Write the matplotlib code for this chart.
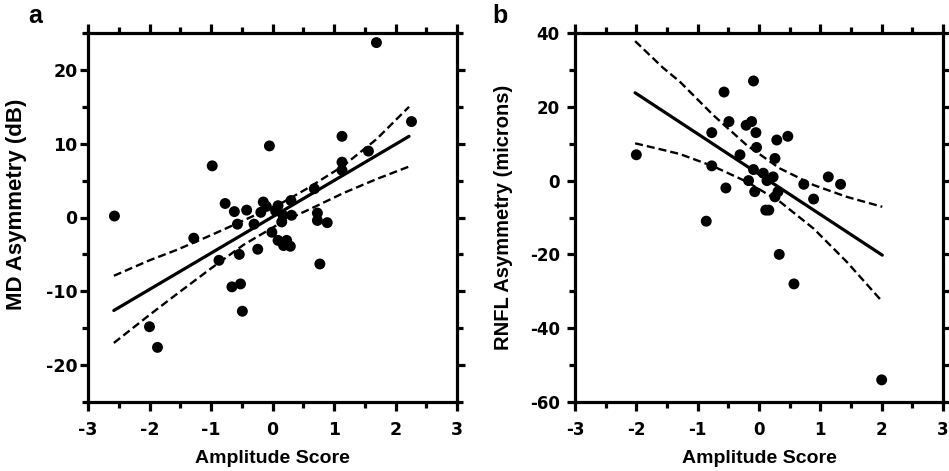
import matplotlib
matplotlib.use("Agg")
import matplotlib.pyplot as plt
from matplotlib.ticker import MultipleLocator

plt.rcParams['font.family'] = ['Liberation Sans', 'DejaVu Sans']
plt.rcParams['font.weight'] = 'bold'
plt.rcParams['axes.unicode_minus'] = False

# panel a: amplitude score vs MD asymmetry (dB)
amp_a = [-2.57, 1.69, 2.26, 1.13, 1.56, 1.13, 1.13, -0.05, -0.98, 0.68,
         -0.77, -0.62, -0.42, -0.57, -0.30, -0.15, -0.10, -0.19, 0.09, 0.30,
         0.17, 0.31, 0.15, 0.73, 0.73, 0.89, -0.01, 0.09, 0.23, 0.18,
         0.29, -0.24, -0.54, -1.28, -0.87, 0.77, -0.66, -0.52, -0.49, -2.00,
         -1.87, 0.05]
md_a = [0.2, 23.7, 13.0, 11.0, 9.0, 7.5, 6.4, 9.7, 7.0, 3.9,
        1.9, 0.8, 1.0, -0.9, -0.9, 2.1, 1.5, 0.7, 1.6, 2.3,
        0.3, 0.3, -0.6, 0.6, -0.4, -0.7, -2.0, -3.1, -3.1, -3.8,
        -3.9, -4.3, -5.0, -2.8, -5.8, -6.3, -9.4, -9.0, -12.7, -14.8,
        -17.6, 0.9]
fit_x_a = [-2.58, 2.22]
fit_y_a = [-12.6, 11.0]
ci_x_a = [-2.58, -2.0, -1.56, -1.0, -0.47, 0.18, 0.6, 1.15, 1.69, 2.22]
ci_up_a = [-7.9, -5.8, -4.4, -2.4, -0.4, 2.1, 4.1, 7.0, 10.6, 15.0]
ci_lo_a = [-17.0, -13.2, -10.4, -6.9, -3.7, -0.5, 1.1, 3.3, 5.2, 6.9]

# panel b: amplitude score vs RNFL asymmetry (microns)
amp_b = [-2.00, -0.09, -0.57, -0.49, -0.12, -0.21, -0.05, -0.77, 0.29, 0.47,
         -0.04, -0.31, 0.26, -0.77, -0.09, -0.17, 0.07, 0.23, 0.13, 1.13,
         0.73, 1.33, -0.54, -0.07, 0.31, 0.26, 0.89, 0.11, 0.16, -0.86,
         0.33, 0.57, 2.00]
rnfl_b = [7, 27, 24, 16, 16, 15, 13, 13, 11, 12,
          9, 7, 6, 4, 3, 0, 2, 1, 0, 1,
          -1, -1, -2, -3, -3, -4.4, -5, -8, -8, -11,
          -20, -28, -54]
fit_x_b = [-2.02, 2.01]
fit_y_b = [23.8, -20.2]
ci_x_b = [-2.02, -1.56, -1.29, -0.75, -0.20, 0.34, 0.89, 1.43, 2.01]
ci_up_b = [37.8, 30.5, 26.8, 17.8, 9.6, 3.3, -1.2, -4.4, -7.1]
ci_lo_b = [10.1, 8.3, 7.2, 3.9, -0.3, -5.7, -13.0, -22.0, -32.8]

fig = plt.figure(figsize=(9.49, 4.71), dpi=100)
ax_a = fig.add_axes([88 / 949, 69 / 471, 369 / 949, 369 / 471])
ax_b = fig.add_axes([575 / 949, 69 / 471, 368 / 949, 369 / 471])

panels = [
    (ax_a, amp_a, md_a, fit_x_a, fit_y_a, ci_x_a, ci_up_a, ci_lo_a,
     (-25, 25), 10, 5, 'MD Asymmetry (dB)', 16, 12.5, 1.5, (-0.165, 0.535)),
    (ax_b, amp_b, rnfl_b, fit_x_b, fit_y_b, ci_x_b, ci_up_b, ci_lo_b,
     (-60, 40), 20, 10, 'RNFL Asymmetry (microns)', 14.5, 12, 5, (-0.168, 0.5)),
]

for ax, xs, ys, fx, fy, cx, cu, cl, ylim, ymaj, ymin, ylab, ylsize, tsize, ypad, ylpos in panels:
    ax.scatter(xs, ys, s=62, c='black', edgecolors='none', zorder=3)
    ax.plot(fx, fy, color='black', lw=2.3, solid_capstyle='round', zorder=2)
    ax.plot(cx, cu, color='black', lw=1.7, linestyle=(0, (3.4, 1.7)), zorder=2)
    ax.plot(cx, cl, color='black', lw=1.7, linestyle=(0, (3.4, 1.7)), zorder=2)

    ax.set_xlim(-3, 3)
    ax.set_ylim(*ylim)
    ax.xaxis.set_major_locator(MultipleLocator(1))
    ax.xaxis.set_minor_locator(MultipleLocator(0.5))
    ax.yaxis.set_major_locator(MultipleLocator(ymaj))
    ax.yaxis.set_minor_locator(MultipleLocator(ymin))
    if ylim[0] == -25:
        ax.set_yticks([-20, -10, 0, 10, 20])

    for sp in ax.spines.values():
        sp.set_linewidth(2.3)
    ax.tick_params(which='both', direction='out', top=True, right=True, width=2.3)
    ax.tick_params(axis='x', which='major', length=6.5, pad=7)
    ax.tick_params(axis='y', which='major', length=6, pad=ypad)
    ax.tick_params(which='minor', length=4.5)
    for lbl in ax.get_xticklabels() + ax.get_yticklabels():
        lbl.set_fontfamily('DejaVu Sans')
        lbl.set_fontweight('bold')
        lbl.set_fontsize(tsize)

    ax.set_xlabel('Amplitude Score', fontsize=14, fontweight='bold', labelpad=8)
    ax.set_ylabel(ylab, fontsize=ylsize, fontweight='bold')
    ax.yaxis.set_label_coords(*ylpos)

fig.text(28 / 949, 1 - 16 / 471, 'a', fontsize=18, fontweight='bold', va='center', ha='left')
fig.text(492 / 949, 1 - 16 / 471, 'b', fontsize=18, fontweight='bold', va='center', ha='left')

fig.savefig('out.png', dpi=100)
